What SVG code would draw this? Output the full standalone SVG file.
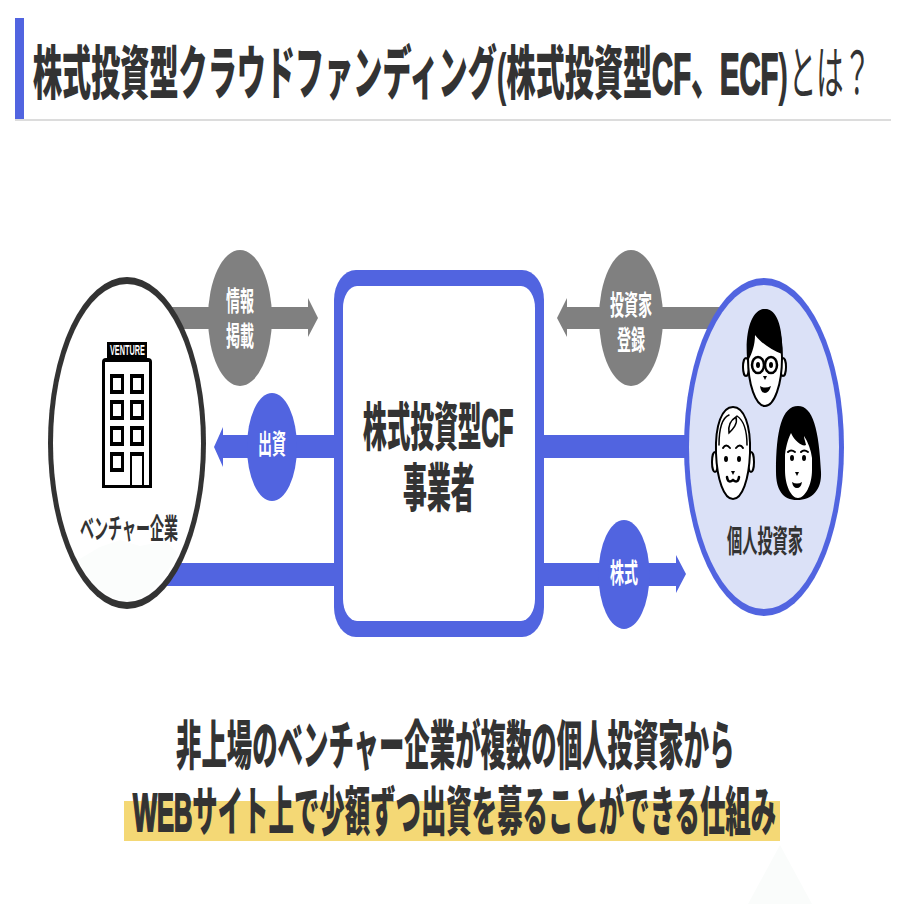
<svg xmlns="http://www.w3.org/2000/svg" width="904" height="904" viewBox="0 0 904 904">
<style>
text{font-family:"Liberation Sans","Noto Sans CJK JP",sans-serif;font-weight:700;fill:#333}
.h{font-weight:900}
.h tspan{font-weight:700;stroke:#333;stroke-width:2.200}
.w{fill:#fff}
.b{fill:#5164e0}
.g{fill:#808080}
.k{fill:#000}
.f{fill:#fff;stroke:#000;stroke-width:2}
.l{fill:none;stroke:#000;stroke-width:2;stroke-linecap:round}
</style>
<rect width="904" height="904" fill="#fff"/>
<g id="title">
<rect x="15" y="119" width="876" height="2" fill="#dcdcdc"/>
<rect x="15" y="18" width="9" height="101" class="b"/>
<text class="h" transform="translate(33 94) scale(.5 1)" font-size="58" textLength="1510" lengthAdjust="spacingAndGlyphs">株式投資型クラウドファンディング(株式投資型<tspan>CF</tspan>、<tspan>ECF</tspan>)</text>
<text transform="translate(789 94) scale(.47 1)" font-size="58" textLength="174" lengthAdjust="spacingAndGlyphs" style="font-weight:400">とは？</text>
</g>
<g id="connectors">
<path class="g" d="M165 307H308V298L318 318 308 337V329H165Z"/>
<path class="g" d="M725 307H567V298L557 318 567 337V329H725Z"/>
<path class="b" d="M340 435H223V427L214 447 223 467V458H340Z"/>
<rect class="b" x="540" y="435" width="150" height="23"/>
<rect class="b" x="165" y="563" width="175" height="23"/>
<path class="b" d="M540 563H676V555L686 574 676 593V586H540Z"/>
</g>
<g id="node-center">
<rect class="b" x="334" y="270" width="210" height="367" rx="22" ry="30"/>
<rect class="w" x="343" y="286" width="192" height="335" rx="14" ry="22"/>
<text class="h" transform="translate(363 446) scale(.455 1)" font-size="52" textLength="330" lengthAdjust="spacingAndGlyphs">株式投資型<tspan>CF</tspan></text>
<text class="h" transform="translate(403 507) scale(.46 1)" font-size="52" textLength="156" lengthAdjust="spacingAndGlyphs">事業者</text>
</g>
<g id="node-venture">
<ellipse cx="127" cy="443" rx="79" ry="166" fill="#333"/>
<ellipse cx="127" cy="443" rx="74" ry="159" fill="#fff"/>
<path d="M78 560L100 547 120 540 140 546 165 541 178 553C165 580 145 601 127 601 110 601 90 585 78 560Z" fill="#fbfdfc"/>
<rect class="k" x="107" y="342" width="40" height="17"/>
<text class="w" transform="translate(110 355) scale(.52 1)" font-size="14" textLength="67" lengthAdjust="spacingAndGlyphs">VENTURE</text>
<path class="k" d="M102 362Q102 358 106 358H148Q152 358 152 362V488H102Z"/>
<rect class="w" x="105" y="362" width="44" height="123"/>
<g class="k">
<rect x="110" y="374" width="14" height="20"/><rect x="130" y="374" width="14" height="20"/>
<rect x="110" y="400" width="14" height="20"/><rect x="130" y="400" width="14" height="20"/>
<rect x="110" y="426" width="14" height="20"/><rect x="130" y="426" width="14" height="20"/>
<rect x="110" y="452" width="14" height="20"/><rect x="130" y="452" width="14" height="36"/>
</g>
<g class="w">
<rect x="113" y="378" width="8" height="12"/><rect x="133" y="378" width="8" height="12"/>
<rect x="113" y="404" width="8" height="12"/><rect x="133" y="404" width="8" height="12"/>
<rect x="113" y="430" width="8" height="12"/><rect x="133" y="430" width="8" height="12"/>
<rect x="113" y="456" width="8" height="12"/><rect x="132" y="456" width="10" height="29"/>
</g>
<text transform="translate(80 539) scale(.5 1)" font-size="28" textLength="196" lengthAdjust="spacingAndGlyphs">ベンチャー企業</text>
</g>
<g id="node-investors">
<ellipse cx="764" cy="447" rx="80" ry="169" class="b"/>
<ellipse cx="764" cy="447" rx="75" ry="162" fill="#dbe1f7"/>
<g id="face-glasses">
<ellipse class="f" cx="746" cy="367" rx="3" ry="9"/><ellipse class="f" cx="783" cy="367" rx="3" ry="9"/>
<ellipse class="f" cx="765" cy="358" rx="17" ry="48"/>
<path class="k" d="M747 358C745 330 752 309 765 309 778 309 783 330 782 354 772 350 762 344 755 335 755 345 752 353 749 359Z"/>
<ellipse class="f" cx="758" cy="365" rx="6" ry="8" style="stroke-width:2.500"/><ellipse class="f" cx="771" cy="365" rx="6" ry="8" style="stroke-width:2.500"/>
<ellipse class="k" cx="758" cy="365" rx="2" ry="3"/><ellipse class="k" cx="771" cy="365" rx="2" ry="3"/>
<path class="k" d="M763 376H767L765 380ZM760 386Q765 389 771 386 769 393 765 393 761 393 760 386Z"/>
</g>
<g id="face-elder">
<ellipse class="f" cx="715" cy="462" rx="3" ry="10"/><ellipse class="f" cx="751" cy="462" rx="3" ry="10"/>
<path class="f" d="M716 453C715 425 722 407 733 407 744 407 751 425 750 453 749 480 742 499 733 499 724 499 717 480 716 453Z"/>
<path class="l" d="M719 445C719 427 722 418 729 415M729 433C728 426 731 420 736 417 738 424 733 429 729 433ZM737 416C743 420 747 430 747 445" style="stroke-width:1.500"/>
<path class="l" d="M723 448Q726 443 730 448M736 448Q740 443 743 448"/>
<ellipse class="k" cx="726" cy="459" rx="2" ry="3"/><ellipse class="k" cx="739" cy="459" rx="2" ry="3"/>
<path class="k" d="M731 471H735L733 475Z"/>
<path class="l" d="M727 477Q728 484 733 480 738 484 739 477" style="stroke-width:2.500"/>
</g>
<g id="face-woman">
<path class="k" d="M776 472C776 430 782 406 798 406 813 406 819 430 821 472 822 490 812 500 797 500 783 500 776 490 776 472Z"/>
<path class="w" d="M785 455C786 445 789 437 791 433 795 442 803 447 806 445 805 440 804 438 804 436 808 442 811 450 812 458V470C812 485 805 498 798 498 791 498 785 485 785 470Z"/>
<ellipse class="k" cx="792" cy="458" rx="2" ry="3"/><ellipse class="k" cx="804" cy="458" rx="2" ry="3"/>
<path class="l" d="M788 452Q791 449 795 452M801 452Q804 449 808 452"/>
<path class="k" d="M795 472H799L797 476ZM792 482Q797 485 802 482 801 488 797 488 793 488 792 482Z"/>
</g>
<text transform="translate(727 552) scale(.49 1)" font-size="31" textLength="155" lengthAdjust="spacingAndGlyphs">個人投資家</text>
</g>
<g id="label-info">
<ellipse class="g" cx="240" cy="318" rx="32" ry="68"/>
<text class="w" transform="translate(226 311) scale(.52 1)" font-size="27" textLength="54" lengthAdjust="spacingAndGlyphs">情報</text>
<text class="w" transform="translate(226 346) scale(.52 1)" font-size="27" textLength="54" lengthAdjust="spacingAndGlyphs">掲載</text>
</g>
<g id="label-register">
<ellipse class="g" cx="631" cy="318" rx="32" ry="68"/>
<text class="w" transform="translate(610 315) scale(.52 1)" font-size="27" textLength="81" lengthAdjust="spacingAndGlyphs">投資家</text>
<text class="w" transform="translate(617 350) scale(.52 1)" font-size="27" textLength="54" lengthAdjust="spacingAndGlyphs">登録</text>
</g>
<g id="label-invest">
<ellipse class="b" cx="272" cy="447" rx="25" ry="54"/>
<text class="w" transform="translate(258 454) scale(.52 1)" font-size="27" textLength="54" lengthAdjust="spacingAndGlyphs">出資</text>
</g>
<g id="label-stock">
<ellipse class="b" cx="624" cy="574.500" rx="25.500" ry="54.500"/>
<text class="w" transform="translate(610 583) scale(.52 1)" font-size="27" textLength="54" lengthAdjust="spacingAndGlyphs">株式</text>
</g>
<g id="summary">
<polygon points="780,845 748,904 812,904" fill="#fafcfb"/>
<rect x="124" y="801" width="656" height="40" fill="#f4d875"/>
<text class="h" transform="translate(176 765) scale(.479 1)" font-size="53" textLength="1166" lengthAdjust="spacingAndGlyphs">非上場のベンチャー企業が複数の個人投資家から</text>
<text class="h" transform="translate(133 831) scale(.48 1)" font-size="53" textLength="1340" lengthAdjust="spacingAndGlyphs"><tspan>WEB</tspan>サイト上で少額ずつ出資を募ることができる仕組み</text>
</g>
</svg>
